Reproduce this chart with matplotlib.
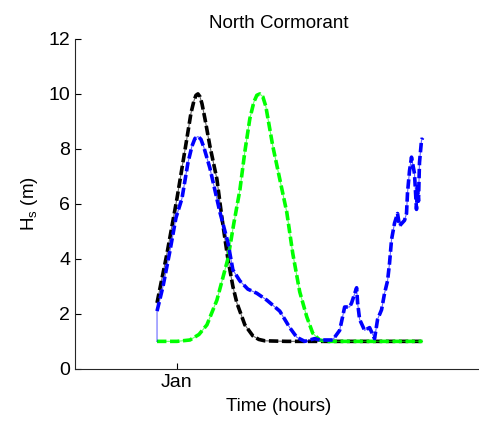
import numpy as np
import matplotlib
matplotlib.use("Agg")
import matplotlib.pyplot as plt

plt.rcParams['font.family'] = ['Liberation Sans', 'DejaVu Sans']
plt.rcParams['mathtext.fontset'] = 'custom'
plt.rcParams['mathtext.rm'] = 'Liberation Sans'
plt.rcParams['mathtext.it'] = 'Liberation Sans'

# time in hours from the start of the record
black_t = [0, 10, 20, 30, 34, 37, 39, 41, 43, 45, 48, 53, 60, 65, 71, 76, 80, 88, 96, 102, 108, 130, 180, 266]
black_hs = [2.4, 4.2, 6.2, 8.4, 9.3, 9.75, 9.95, 10.0, 9.9, 9.65, 9.1, 8.1, 6.9, 5.5, 4.0, 3.0, 2.4, 1.6, 1.2, 1.07, 1.02, 1.0, 1.0, 1.0]

green_t = [0, 20, 33, 42, 50, 60, 71, 77, 83, 88, 93, 97, 100, 103, 106, 109, 116, 123, 130, 136, 143, 150, 156, 160, 163, 170, 266]
green_hs = [1.0, 1.0, 1.05, 1.25, 1.6, 2.5, 4.0, 5.3, 6.5, 7.9, 9.1, 9.7, 9.95, 10.0, 9.9, 9.55, 8.1, 6.9, 5.7, 4.2, 2.8, 1.9, 1.3, 1.15, 1.05, 1.0, 1.0]

blue_t = [0, 0, 6, 13, 19, 25, 31, 35, 38, 41, 44, 47, 53, 63, 71, 76, 83, 91, 100, 110, 123, 133, 140, 148, 153, 158,
          163, 176, 183, 186, 188, 193, 195, 200, 201, 203, 208, 213, 218, 221, 225, 228, 231, 233, 235,
          238, 241, 243, 248, 250, 251, 253, 255, 258, 260, 261, 262, 263, 265, 266]
blue_hs = [1.0, 2.1, 3.0, 4.3, 5.5, 6.2, 7.5, 8.1, 8.38, 8.45, 8.35, 8.05, 7.3, 5.7, 4.6, 3.6, 3.2, 2.9, 2.75, 2.5, 2.1, 1.5, 1.15, 1.0, 1.05, 1.1,
           1.05, 1.05, 1.4, 1.9, 2.25, 2.25, 2.4, 2.95, 2.4, 1.8, 1.4, 1.5, 1.1, 1.8, 2.15, 2.75, 3.2, 3.85, 4.7,
           5.3, 5.65, 5.2, 5.4, 5.65, 6.4, 7.2, 7.7, 7.1, 5.8, 6.6, 6.1, 7.5, 8.3, 8.4]

xtick_pos = [20]
xtick_lab = ['Jan']

fig = plt.figure(figsize=(4.79, 4.23), dpi=100)
ax = fig.add_axes([0.157, 0.128, 0.85, 0.78])

lw = 2.6
dash = (2.6, 1.0)
for t, hs, c in [(black_t, black_hs, 'black'), (green_t, green_hs, '#00ff00'), (blue_t, blue_hs, '#0000ff')]:
    ax.plot(t, hs, color=c, lw=0.8, alpha=0.6)
    if c == '#0000ff':
        # first sample only drawn by the thin line
        t, hs = t[1:], hs[1:]
    ax.plot(t, hs, color=c, lw=lw, dashes=dash)

ax.set_xlim(-82, 326)
ax.set_ylim(0, 12)
ax.set_yticks(range(0, 13, 2))
ax.set_xticks(xtick_pos)
ax.set_xticklabels(xtick_lab)
ax.tick_params(direction='in', length=4, labelsize=14, colors='black', width=0.8)
for s in ['top', 'right']:
    ax.spines[s].set_visible(False)
for s in ['left', 'bottom']:
    ax.spines[s].set_color('#262626')

ax.set_title('North Cormorant', fontsize=13.5, pad=8)
ax.set_xlabel('Time (hours)', fontsize=13.5, labelpad=5)
ax.set_ylabel(r'$\mathregular{H_s}$ (m)', fontsize=13.5, labelpad=6)

fig.savefig('out.png', dpi=100)
